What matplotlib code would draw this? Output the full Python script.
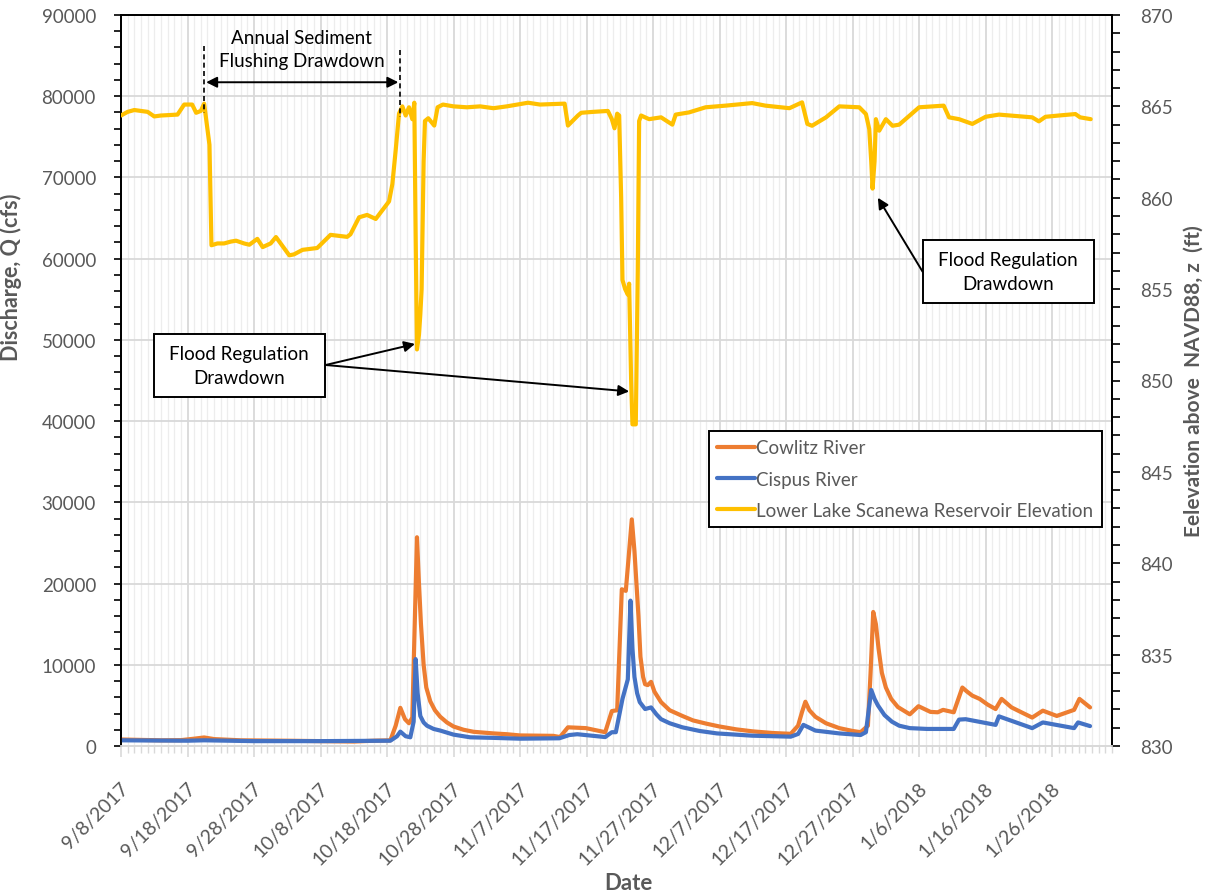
import datetime as dt
import numpy as np
import matplotlib
matplotlib.use("Agg")
import matplotlib.pyplot as plt
import matplotlib.dates as mdates
from matplotlib.ticker import FixedLocator, MultipleLocator, FuncFormatter
from matplotlib.patches import Rectangle
from matplotlib.transforms import ScaledTranslation

plt.rcParams['font.family'] = ['Lato', 'DejaVu Sans']

# ---------------- data (day offset from 9/8/2017) ----------------
start_date = dt.datetime(2017, 9, 8)

cowlitz_days = [0, 3, 6, 9, 11, 12.5, 14, 18, 25, 30, 35, 38, 40.5, 41.3, 42, 42.7, 43.3, 43.8,
                44.5, 44.8, 45.1, 45.5, 45.9, 46.5, 47.2, 48, 49, 50, 51.5, 53, 56, 58, 60, 65,
                66, 67.2, 69.9, 72.8, 73.8, 74.6, 75.3, 75.9, 76.8, 77.2, 77.5, 77.8, 78.1, 78.5,
                78.8, 79.2, 79.7, 80.2, 81.2, 82.5, 84.4, 86, 88, 90, 92.5, 95, 98, 100.7,
                101.8, 102.4, 102.9, 103.5, 104.4, 106, 108, 110, 111.2, 112.3, 112.7, 113.1,
                113.5, 113.9, 114.4, 115, 115.8, 116.8, 118, 118.6, 119.9, 121.7, 122.8, 123.6,
                125.2, 126.5, 127.2, 128, 129.1, 130.3, 131.5, 132.4, 133.9, 135.5, 137, 138.6,
                140.7, 143.3, 144.1, 145.7]
cowlitz_q = [800, 750, 700, 720, 900, 1050, 850, 700, 650, 600, 550, 650, 700, 2500, 4700, 3300,
             2800, 3500, 25700, 20000, 15000, 10000, 7200, 5500, 4400, 3600, 2900, 2400, 2000,
             1750, 1550, 1450, 1300, 1250, 1100, 2300, 2200, 1700, 4300, 4400, 19300, 19100,
             27900, 24000, 20000, 16000, 11000, 8500, 7600, 7500, 7900, 6700, 5400, 4400, 3700,
             3150, 2750, 2400, 2050, 1800, 1600, 1500, 2500, 4200, 5450, 4400, 3600, 2800, 2200,
             1850, 1700, 2500, 9000, 16500, 15000, 12000, 9000, 7200, 5800, 4800, 4200, 3900,
             4900, 4200, 4150, 4450, 4150, 7200, 6700, 6200, 5800, 5100, 4550, 5800, 4750, 4100,
             3500, 4350, 3700, 4450, 5800, 4750]

cispus_days = [0, 10, 12.5, 20, 30, 40.5, 41.5, 42, 42.8, 43.5, 44, 44.3, 44.6, 45, 45.5, 46, 47,
               48, 50, 52.5, 56, 60, 65.9, 67.4, 68.6, 72.8, 73.8, 74.4, 75.4, 76.2, 76.6, 76.9,
               77.2, 77.6, 78, 78.8, 79.7, 80.5, 81.2, 82.5, 84.4, 87, 89.6, 94.9, 100.7, 101.8,
               102.6, 104.4, 108, 111.2, 112, 112.8, 113.3, 113.8, 114.8, 115.9, 117, 118.6,
               121.2, 125.2, 126, 127, 131.5, 132, 137, 138.6, 143.3, 143.9, 145.7]
cispus_q = [700, 650, 700, 600, 600, 650, 1200, 1770, 1200, 1070, 3000, 10700, 6500, 3700, 2900,
            2500, 2100, 1900, 1400, 1070, 1000, 900, 950, 1350, 1450, 1100, 1700, 1700, 5800,
            8200, 17900, 12000, 8500, 6500, 5400, 4550, 4750, 3900, 3300, 2800, 2300, 1850, 1550,
            1270, 1150, 1480, 2600, 1900, 1550, 1350, 1700, 6900, 5800, 5000, 3800, 3000, 2500,
            2200, 2100, 2100, 3250, 3300, 2600, 3650, 2200, 2900, 2200, 2900, 2450]

elev_days = [0, 1, 2, 3, 4, 5, 6, 8.5, 9.5, 10.7, 11.3, 12.0, 12.5, 13.3, 13.6, 14.5, 15.5, 16.5,
             17.3, 18.5, 19.3, 20.5, 21.3, 22.5, 23.3, 25.3, 26, 27.3, 29.5, 31.5, 34, 34.5, 35.8,
             37, 38.3, 40.3, 40.8, 41.3, 41.8, 42.3, 42.8, 43.3, 43.8, 44.1, 44.3, 44.5, 44.8,
             45.0, 45.2, 45.5, 45.7, 46.2, 47.1, 47.6, 48.4, 50, 52, 54, 56, 58, 61.2, 63, 66.7,
             67.2, 68.7, 69.2, 71, 73.2, 73.8, 74.2, 74.6, 74.9, 75.2, 75.4, 75.8, 76.2, 76.4,
             76.7, 76.9, 77.4, 77.7, 77.9, 78.2, 79.4, 81.2, 82.9, 83.4, 85.4, 87.9, 90.9, 94.9,
             96.9, 100.5, 102.4, 103.2, 103.9, 106, 108, 111, 112, 112.5, 112.8, 113, 113.3,
             113.5, 114, 115, 116, 117, 120, 123.7, 124.5, 126, 128, 130, 132, 137, 138, 139,
             141, 143.5, 144.2, 145.8]
elev_z = [864.5, 864.7, 864.8, 864.75, 864.7, 864.45, 864.5, 864.55, 865.1, 865.1, 864.65, 864.75,
          865.15, 862.9, 857.4, 857.5, 857.5, 857.6, 857.65, 857.5, 857.43, 857.75, 857.3, 857.5,
          857.85, 856.85, 856.9, 857.15, 857.25, 857.97, 857.86, 858.0, 858.93, 859.06, 858.84,
          859.8, 860.75, 862.6, 864.6, 865.0, 864.5, 864.95, 864.3, 865.2, 858.0, 851.7, 852.5,
          853.6, 855.0, 862.0, 864.2, 864.35, 863.95, 864.95, 865.1, 865.0, 864.95, 865.0, 864.9,
          865.0, 865.2, 865.1, 865.15, 863.95, 864.5, 864.65, 864.7, 864.75, 864.3, 863.8, 864.6,
          864.5, 860.0, 855.5, 855.0, 854.7, 855.3, 850.0, 847.6, 847.6, 856.0, 864.2, 864.5,
          864.3, 864.4, 864.0, 864.55, 864.67, 864.95, 865.04, 865.18, 865.04, 864.9, 865.22,
          864.04, 863.94, 864.4, 865.0, 864.95, 864.58, 863.76, 862.0, 860.5, 862.0, 864.3,
          863.67, 864.3, 863.94, 864.0, 864.95, 865.04, 864.4, 864.3, 864.04, 864.43, 864.55,
          864.4, 864.18, 864.43, 864.5, 864.58, 864.4, 864.3]

tick_days = list(range(0, 141, 10))
x_span_days = 149

# ---------------- figure ----------------
base = mdates.date2num(start_date)
def to_x(days):
    return base + np.asarray(days, dtype=float)

fig = plt.figure(figsize=(12.09, 8.95), dpi=100)
ax = fig.add_axes([121 / 1209, 148 / 895, 991 / 1209, 731 / 895])
ax2 = ax.twinx()

c_cow = '#ED7D31'
c_cis = '#4472C4'
c_elev = '#FFC000'
grey_txt = '#595959'
LW = 3.0

l1, = ax.plot(to_x(cowlitz_days), cowlitz_q, color=c_cow, lw=LW, solid_joinstyle='round',
              solid_capstyle='round', label='Cowlitz River', zorder=3)
l2, = ax.plot(to_x(cispus_days), cispus_q, color=c_cis, lw=LW, solid_joinstyle='round',
              solid_capstyle='round', label='Cispus River', zorder=4)
l3, = ax2.plot(to_x(elev_days), elev_z, color=c_elev, lw=LW, solid_joinstyle='round',
               solid_capstyle='round', label='Lower Lake Scanewa Reservoir Elevation', zorder=3)

ax.set_xlim(base, base + x_span_days)
ax.set_ylim(0, 90000)
ax2.set_ylim(830, 870)

# x ticks
ax.xaxis.set_major_locator(FixedLocator(to_x(tick_days)))
ax.xaxis.set_minor_locator(MultipleLocator(1))
def fmt_date(v, pos):
    d = mdates.num2date(v)
    return f"{d.month}/{d.day}/{d.year}"
ax.xaxis.set_major_formatter(FuncFormatter(fmt_date))
ax.tick_params(axis='x', which='major', length=8, color='#d9d9d9', width=1.2,
               labelsize=14, labelcolor=grey_txt, pad=20)
ax.tick_params(axis='x', which='minor', length=5, color='#d9d9d9', width=1.0)
for lab in ax.get_xticklabels():
    lab.set_rotation(45)
    lab.set_ha('right')
    lab.set_va('center')
    lab.set_rotation_mode('anchor')
    lab.set_transform(lab.get_transform() + ScaledTranslation(0.05, 0, fig.dpi_scale_trans))

# y ticks
ax.yaxis.set_major_locator(MultipleLocator(10000))
ax.yaxis.set_minor_locator(MultipleLocator(2000))
ax.yaxis.set_major_formatter(FuncFormatter(lambda v, p: f"{int(v)}"))
ax.tick_params(axis='y', which='both', length=5, width=1.2, color='black',
               labelsize=13.5, labelcolor=grey_txt, pad=13)
ax2.yaxis.set_major_locator(MultipleLocator(5))
ax2.yaxis.set_minor_locator(MultipleLocator(1))
ax2.tick_params(axis='y', which='both', length=6, width=1.2, color='black',
                labelsize=13.5, labelcolor=grey_txt, pad=14)

# grid
ax.grid(which='minor', axis='x', color='#ededed', lw=0.9, zorder=0)
ax.grid(which='major', axis='x', color='#d9d9d9', lw=1.3, zorder=0)
ax.grid(which='major', axis='y', color='#d9d9d9', lw=1.3, zorder=0)
ax.set_axisbelow(True)

# spines
for a in (ax, ax2):
    a.spines['top'].set_color('black')
    a.spines['top'].set_linewidth(1.3)
    a.spines['bottom'].set_color('#d9d9d9')
    a.spines['bottom'].set_linewidth(1.3)
    a.spines['left'].set_color('black')
    a.spines['left'].set_linewidth(1.3)
    a.spines['right'].set_color('black')
    a.spines['right'].set_linewidth(1.3)

# labels
ax.set_xlabel('Date', fontsize=16, fontweight='bold', color=grey_txt)
ax.xaxis.set_label_coords(0.512, -0.172)
ax.set_ylabel('Discharge, Q (cfs)', fontsize=15.5, fontweight='bold', color=grey_txt)
ax.yaxis.set_label_coords(-0.100, 0.643)
ax2.set_ylabel('Eelevation above  NAVD88, z  (ft)', fontsize=15, fontweight='bold',
               color=grey_txt, rotation=90)
ax2.yaxis.set_label_coords(1.072, 0.5)

# legend
leg = ax2.legend(handles=[l1, l2, l3], loc='upper right', bbox_to_anchor=(0.9899, 0.4309),
                 borderaxespad=0, fancybox=False, edgecolor='black', fontsize=13.5,
                 handlelength=2.0, handletextpad=0.1, labelspacing=0.75, borderpad=0.45,
                 framealpha=1)
leg.get_frame().set_linewidth(1.4)
for t in leg.get_texts():
    t.set_color(grey_txt)
leg.set_zorder(10)

# ---------------- annotations ----------------
xt = ax.get_xaxis_transform()
flush_start, flush_end = 12.5, 41.9
ax2.plot(to_x([flush_start, flush_start]), [0.9576, 0.866], transform=xt, color='black',
         lw=1.2, ls=(0, (3, 2)), zorder=6)
ax2.plot(to_x([flush_end, flush_end]), [0.9521, 0.861], transform=xt, color='black',
         lw=1.2, ls=(0, (3, 2)), zorder=6)
ax2.annotate('', xy=(to_x(flush_end - 0.2), 0.908), xytext=(to_x(flush_start + 0.3), 0.908),
             xycoords=xt, textcoords=xt,
             arrowprops=dict(arrowstyle='<|-|>', color='black', lw=1.4, shrinkA=0, shrinkB=0,
                             mutation_scale=16), zorder=6)
ax2.text(to_x(27.2), 0.9535, 'Annual Sediment\nFlushing Drawdown', transform=xt,
         ha='center', va='center', fontsize=13.5, color='black', linespacing=1.45, zorder=6)

# flood regulation boxes (axes fraction)
box1 = (0.0328, 0.4774, 0.2059 - 0.0328, 0.5636 - 0.4774)
box2 = (0.8089, 0.6060, 0.9818 - 0.8089, 0.6926 - 0.6060)
for (bx, by, bw, bh) in (box1, box2):
    ax2.add_patch(Rectangle((bx, by), bw, bh, transform=ax2.transAxes, facecolor='white',
                            edgecolor='black', lw=1.4, zorder=7))
    ax2.text(bx + bw / 2, by + bh / 2, 'Flood Regulation\nDrawdown', transform=ax2.transAxes,
             ha='center', va='center', fontsize=13.5, color='black', linespacing=1.45, zorder=8)

arrow_kw = dict(arrowstyle='-|>', color='black', lw=1.4, shrinkA=0, shrinkB=0, mutation_scale=16)
ax2.annotate('', xy=(to_x(44.2), 852.0), xycoords='data',
             xytext=(0.2065, 0.5212), textcoords='axes fraction', arrowprops=arrow_kw, zorder=6)
ax2.annotate('', xy=(to_x(76.4), 849.4), xycoords='data',
             xytext=(0.2065, 0.5212), textcoords='axes fraction', arrowprops=arrow_kw, zorder=6)
ax2.annotate('', xy=(to_x(113.8), 860.0), xycoords='data',
             xytext=(0.8089, 0.6488), textcoords='axes fraction', arrowprops=arrow_kw, zorder=6)

fig.savefig('out.png', dpi=100)
